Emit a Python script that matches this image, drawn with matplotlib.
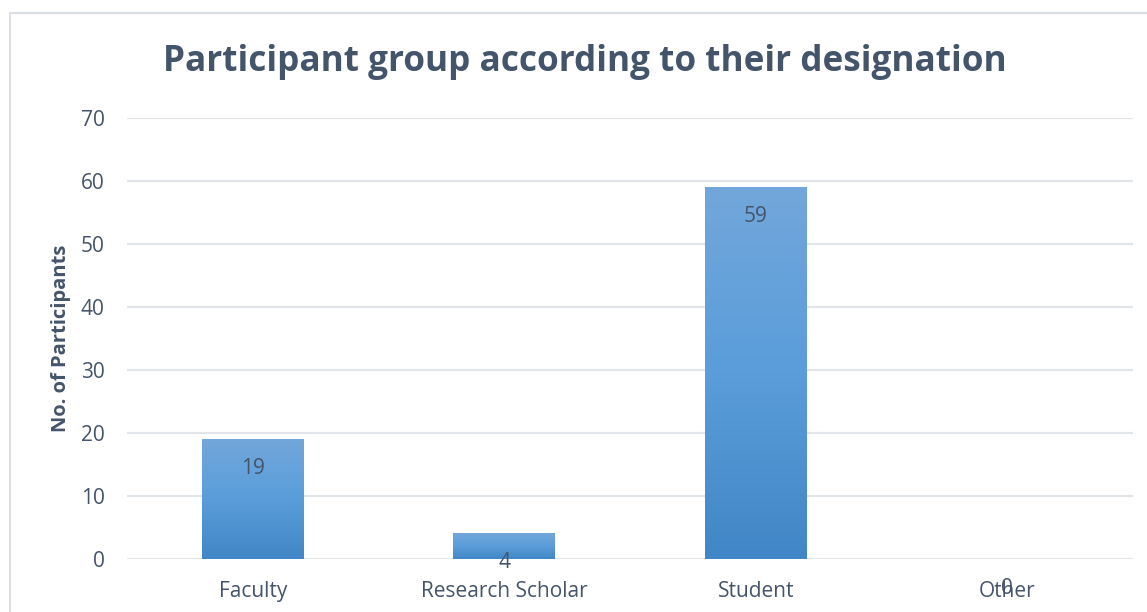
import numpy as np
import matplotlib
matplotlib.use("Agg")
import matplotlib.pyplot as plt
from matplotlib.patches import Rectangle
from matplotlib.colors import LinearSegmentedColormap

categories = ["Faculty", "Research Scholar", "Student", "Other"]
values = [19, 4, 59, 0]
y_ticks = [0, 10, 20, 30, 40, 50, 60, 70]
title = "Participant group according to their designation"
y_label = "No. of Participants"

W, H = 1147, 612
fig = plt.figure(figsize=(W / 100, H / 100), dpi=100)
fig.patch.set_facecolor("white")

font = "Open Sans"
text_color = "#44546A"

# chart border
fig.add_artist(Rectangle((10 / W, -0.1), 2, 1 - 13 / H + 0.1, transform=fig.transFigure,
                         fill=False, edgecolor="#D9DEE4", linewidth=1.5))

ax = fig.add_axes([127 / W, 1 - 559 / H, (1133 - 127) / W, (559 - 118) / H])
ax.set_xlim(-0.5, len(categories) - 0.5)
ax.set_ylim(0, 70)
ax.set_yticks(y_ticks)
for y in y_ticks:
    ax.axhline(y, color="#E1E5EA", linewidth=1.6, zorder=0)
for s in ax.spines.values():
    s.set_visible(False)
ax.tick_params(axis="both", length=0, labelsize=15, labelcolor=text_color)
ax.tick_params(axis="y", pad=16)
ax.tick_params(axis="x", pad=16)
ax.set_xticks(range(len(categories)))
ax.set_xticklabels(categories)
for lab in ax.get_xticklabels() + ax.get_yticklabels():
    lab.set_fontfamily(font)

cmap = LinearSegmentedColormap.from_list("g", ["#4186C6", "#5A9DDA", "#72A7DB"])
grad = np.linspace(0, 1, 256).reshape(-1, 1)
bw = 0.405
bars = ax.bar(range(len(categories)), values, width=bw, color="none", zorder=2)
for b, v in zip(bars, values):
    if v <= 0:
        continue
    x0 = b.get_x()
    ax.imshow(grad, cmap=cmap, origin="lower", aspect="auto",
              extent=(x0, x0 + bw, 0, v), zorder=2, interpolation="bicubic")
ax.set_xlim(-0.5, len(categories) - 0.5)
ax.set_ylim(0, 70)

for i, v in enumerate(values):
    ax.annotate(str(v), (i, v), xytext=(0, -21), textcoords="offset points",
                ha="center", va="center", fontsize=15, color=text_color,
                fontfamily=font, zorder=3)

ax.set_ylabel(y_label, fontsize=14.5, fontweight="bold", color=text_color,
              fontfamily=font)
ax.yaxis.set_label_coords(-56 / (1133 - 127), 0.5)

fig.text(585 / W, 1 - 62 / H, title, ha="center", va="center", fontsize=25.3,
         fontweight="bold", color=text_color, fontfamily=font)

fig.savefig("out.png", dpi=100)
